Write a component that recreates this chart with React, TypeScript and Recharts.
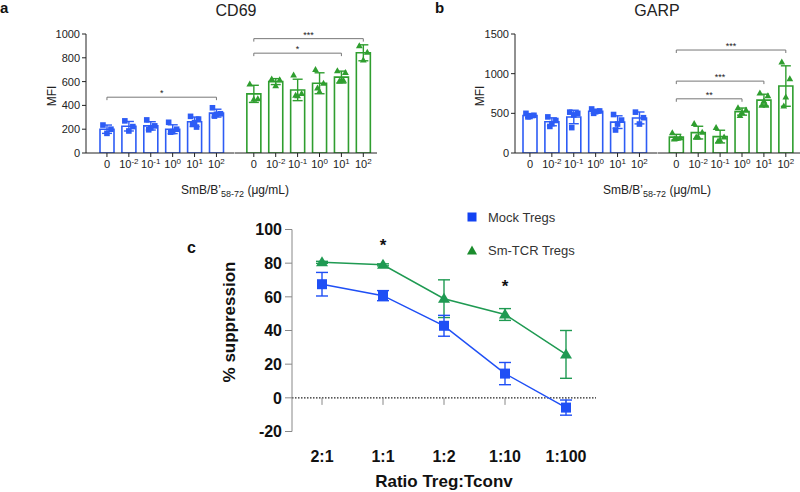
import React from 'react';
import {
  ComposedChart, Bar, ErrorBar, Scatter, Line, XAxis, YAxis,
  ReferenceLine, ReferenceDot, Legend
} from 'recharts';

const FONT = '"Liberation Sans", Arial, Helvetica, sans-serif';
const BLUE = '#2d5cf5';
const GREEN = '#2f9e2f';
const LINE_BLUE = '#1f4ff5';
const LINE_GREEN = '#1f9a52';
const AXIS = '#222';

// SmB/B'58-72 concentrations (x categories)
const CONC = ['0', '10^-2', '10^-1', '10^0', '10^1', '10^2'];

// CD69 MFI
const CD69_MOCK_MEAN = [200, 225, 228, 200, 262, 335];
const CD69_MOCK_SD = [35, 40, 35, 37, 40, 33];
const CD69_MOCK_PTS = [
  [235, 200, 165], [270, 222, 185], [278, 228, 212, 195],
  [258, 200, 180, 175], [308, 285, 255, 245, 218], [380, 330, 325, 310],
];
const CD69_SM_MEAN = [497, 600, 530, 586, 638, 842];
const CD69_SM_SD = [72, 25, 90, 88, 50, 67];
const CD69_SM_PTS = [
  [580, 455, 450], [620, 615, 565], [655, 500, 480, 485],
  [700, 585, 515, 545], [690, 675, 610, 605, 610], [900, 845, 780],
];

// GARP MFI
const GARP_MOCK_MEAN = [472, 393, 454, 527, 389, 442];
const GARP_MOCK_SD = [25, 50, 85, 25, 80, 75];
const GARP_MOCK_PTS = [
  [500, 475, 460, 455], [455, 410, 370, 335], [515, 500, 480, 320],
  [555, 530, 520, 500], [485, 415, 365, 290], [515, 445, 365],
];
const GARP_SM_MEAN = [200, 257, 207, 522, 666, 844];
const GARP_SM_SD = [35, 80, 80, 45, 75, 255];
const GARP_SM_PTS = [
  [255, 190, 180, 175], [370, 260, 200, 200], [320, 200, 160, 150],
  [570, 540, 510, 470], [755, 720, 655, 600, 600], [1145, 935, 705, 590],
];

// significance brackets
const CD69_MOCK_SIG = [{ from: '0', to: '10^2', y: 469, text: '*' }];
const CD69_SM_SIG = [
  { from: '0', to: '10^1', y: 839, text: '*' },
  { from: '0', to: '10^2', y: 961, text: '***' },
];
const GARP_SM_SIG = [
  { from: '0', to: '10^0', y: 683, text: '**' },
  { from: '0', to: '10^1', y: 906, text: '***' },
  { from: '0', to: '10^2', y: 1298, text: '***' },
];

// suppression assay
const RATIO = ['2:1', '1:1', '1:2', '1:10', '1:100'];
const MOCK_SUPP = [67.5, 60.7, 42.8, 14.4, -5.8];
const MOCK_SUPP_SD = [7, 3, 6.2, 6.6, 4.5];
const SM_SUPP = [80.5, 79, 58.9, 49.5, 25.8];
const SM_SUPP_SD = [0.6, 0.6, 11.2, 3.5, 14.2];
const SUPP_SIG = [{ x: '1:1', y: 91 }, { x: '1:10', y: 66.5 }];

const JITTER = [-4, 4, 0, -2, 2];

function buildRows(mean: number[], sd: number[], pts: number[][]) {
  return CONC.map((c, i) => {
    const row: any = { conc: c, mean: mean[i], sd: sd[i] };
    pts[i].forEach((v, j) => { row['p' + j] = v; });
    return row;
  });
}

const ConcTick = (props: any) => {
  const { x, y, payload } = props;
  const [base, exp] = String(payload.value).split('^');
  return (
    <text x={x} y={y} dy={9} textAnchor="middle" fontSize={11} fontFamily={FONT} fill="#222">
      {base}
      {exp !== undefined && <tspan dy={-4} fontSize={8}>{exp}</tspan>}
    </text>
  );
};

const pointShape = (j: number, kind: string, color: string) => (props: any) => {
  const { cx, cy, payload } = props;
  if (!payload || payload['p' + j] == null || !Number.isFinite(cy)) return <g />;
  const x = cx + JITTER[j];
  if (kind === 'square') {
    return <rect x={x - 2.8} y={cy - 2.8} width={5.6} height={5.6} fill={color} />;
  }
  return <path d={`M${x},${cy - 3.6} L${x + 3.4},${cy + 2.4} L${x - 3.4},${cy + 2.4} Z`} fill={color} />;
};

type HalfProps = {
  rows: any[]; left: number; width: number; axisWidth: number;
  padL: number; padR: number; domain: number[]; ticks: number[];
  color: string; kind: string; sig: any[]; showY: boolean;
};

function BarHalf(p: HalfProps) {
  const tickLen = p.domain[1] * 0.025;
  return (
    <div style={{ position: 'absolute', left: p.left, top: 0 }}>
      <ComposedChart width={p.width} height={183} data={p.rows}
        margin={{ top: 34, right: 0, left: 0, bottom: 0 }}>
        <XAxis dataKey="conc" interval={0} height={30} padding={{ left: p.padL, right: p.padR }}
          tick={<ConcTick />} tickSize={4} tickLine={{ stroke: AXIS }} axisLine={{ stroke: AXIS }} />
        <YAxis hide={!p.showY} width={p.axisWidth} domain={p.domain} ticks={p.ticks}
          tickSize={4} tickLine={{ stroke: AXIS }} axisLine={{ stroke: AXIS }}
          tick={{ fontSize: 11, fill: '#222', fontFamily: FONT }} allowDataOverflow />
        {p.sig.map((s, i) => (
          <ReferenceLine key={'h' + i} segment={[{ x: s.from, y: s.y }, { x: s.to, y: s.y }]}
            stroke="#777" strokeWidth={1}
            label={{ value: s.text, position: 'top', offset: 1, fontSize: 9, fill: '#222', fontFamily: FONT }} />
        ))}
        {p.sig.map((s, i) => (
          <ReferenceLine key={'l' + i} segment={[{ x: s.from, y: s.y }, { x: s.from, y: s.y - tickLen }]}
            stroke="#777" strokeWidth={1} />
        ))}
        {p.sig.map((s, i) => (
          <ReferenceLine key={'r' + i} segment={[{ x: s.to, y: s.y }, { x: s.to, y: s.y - tickLen }]}
            stroke="#777" strokeWidth={1} />
        ))}
        <Bar dataKey="mean" barSize={14} fill="#fff" stroke={p.color} strokeWidth={1.6} isAnimationActive={false}>
          <ErrorBar dataKey="sd" width={5} stroke={p.color} strokeWidth={1.4} />
        </Bar>
        {[0, 1, 2, 3, 4].map(j => (
          <Scatter key={j} dataKey={'p' + j} shape={pointShape(j, p.kind, p.color)} isAnimationActive={false} />
        ))}
      </ComposedChart>
    </div>
  );
}

const suppRows = RATIO.map((r, i) => ({
  ratio: r, mock: MOCK_SUPP[i], mockSd: MOCK_SUPP_SD[i], sm: SM_SUPP[i], smSd: SM_SUPP_SD[i],
}));

const squareDot = (props: any) => {
  const { cx, cy, index } = props;
  return <rect key={'sq' + index} x={cx - 5} y={cy - 5} width={10} height={10} fill={LINE_BLUE} />;
};
const triDot = (props: any) => {
  const { cx, cy, index } = props;
  return <path key={'tr' + index} d={`M${cx},${cy - 6} L${cx + 6},${cy + 4} L${cx - 6},${cy + 4} Z`} fill={LINE_GREEN} />;
};

const renderLegend = () => (
  <div style={{ fontFamily: FONT, fontSize: 13, color: '#333' }}>
    <div style={{ display: 'flex', alignItems: 'center', height: 18, marginBottom: 15 }}>
      <svg width={12} height={12} style={{ marginRight: 10 }}>
        <rect x={1.5} y={1.5} width={9} height={9} fill="#1242f2" />
      </svg>
      <span>Mock Tregs</span>
    </div>
    <div style={{ display: 'flex', alignItems: 'center', height: 18 }}>
      <svg width={12} height={12} style={{ marginRight: 10 }}>
        <path d="M6,1.5 L11,10.5 L1,10.5 Z" fill="#1b8c2d" />
      </svg>
      <span>Sm-TCR Tregs</span>
    </div>
  </div>
);

export default function App() {
  const cd69Mock = buildRows(CD69_MOCK_MEAN, CD69_MOCK_SD, CD69_MOCK_PTS);
  const cd69Sm = buildRows(CD69_SM_MEAN, CD69_SM_SD, CD69_SM_PTS);
  const garpMock = buildRows(GARP_MOCK_MEAN, GARP_MOCK_SD, GARP_MOCK_PTS);
  const garpSm = buildRows(GARP_SM_MEAN, GARP_SM_SD, GARP_SM_PTS);
  const cd69Ticks = [0, 200, 400, 600, 800, 1000];
  const garpTicks = [0, 500, 1000, 1500];

  return (
    <div style={{ position: 'absolute', left: 0, top: 0, width: 800, height: 492, background: '#fff', fontFamily: FONT, overflow: 'hidden' }}>
      <BarHalf rows={cd69Mock} left={0} width={234.5} axisWidth={86} padL={10} padR={7.1}
        domain={[0, 1000]} ticks={cd69Ticks} color={BLUE} kind="square" sig={CD69_MOCK_SIG} showY />
      <BarHalf rows={cd69Sm} left={234.5} width={142.5} axisWidth={0} padL={7.85} padR={3.25}
        domain={[0, 1000]} ticks={cd69Ticks} color={GREEN} kind="triangle" sig={CD69_SM_SIG} showY={false} />
      <BarHalf rows={garpMock} left={455} width={202.5} axisWidth={60} padL={4} padR={7.1}
        domain={[0, 1500]} ticks={garpTicks} color={BLUE} kind="square" sig={[]} showY />
      <BarHalf rows={garpSm} left={657.5} width={142.5} axisWidth={0} padL={7.35} padR={3.75}
        domain={[0, 1500]} ticks={garpTicks} color={GREEN} kind="triangle" sig={GARP_SM_SIG} showY={false} />

      <div style={{ position: 'absolute', left: 200, top: 200 }}>
        <ComposedChart width={400} height={292} data={suppRows}
          margin={{ top: 29.5, right: 4, left: 0, bottom: 0 }}>
          <XAxis dataKey="ratio" interval={0} height={60.5} axisLine={false} tickLine={false} tickMargin={13}
            padding={{ left: 30, right: 30 }}
            tick={{ fontSize: 16, fontWeight: 'bold', fill: '#111', fontFamily: FONT }} />
          <YAxis width={92} domain={[-20, 100]} ticks={[-20, 0, 20, 40, 60, 80, 100]}
            tickSize={7} tickMargin={3} axisLine={{ stroke: '#888' }} tickLine={{ stroke: '#888' }}
            tick={{ fontSize: 16, fontWeight: 'bold', fill: '#111', fontFamily: FONT }} />
          <ReferenceLine y={0} stroke="#222" strokeWidth={1.3} strokeDasharray="1.5 1.5" />
          {RATIO.map(r => (
            <ReferenceLine key={r} segment={[{ x: r, y: 0 }, { x: r, y: -4.2 }]} stroke="#888" strokeWidth={1} />
          ))}
          {SUPP_SIG.map((s, i) => (
            <ReferenceDot key={i} x={s.x} y={s.y} r={0} stroke="none"
              label={{ value: '*', position: 'center', fontSize: 17, fontWeight: 'bold', fill: '#111', fontFamily: FONT }} />
          ))}
          <Line dataKey="sm" name="Sm-TCR Tregs" stroke={LINE_GREEN} strokeWidth={1.5} dot={triDot}
            activeDot={false} isAnimationActive={false}>
            <ErrorBar dataKey="smSd" width={6} stroke={LINE_GREEN} strokeWidth={1.4} />
          </Line>
          <Line dataKey="mock" name="Mock Tregs" stroke={LINE_BLUE} strokeWidth={1.5} dot={squareDot}
            activeDot={false} isAnimationActive={false}>
            <ErrorBar dataKey="mockSd" width={6} stroke={LINE_BLUE} strokeWidth={1.4} />
          </Line>
          <Legend layout="vertical" align="center" verticalAlign="middle" content={renderLegend}
            wrapperStyle={{ left: 266, top: 8, width: 150 }} />
        </ComposedChart>
      </div>

      <svg width={800} height={492} style={{ position: 'absolute', left: 0, top: 0, pointerEvents: 'none' }}
        fontFamily={FONT}>
        <text x={0} y={13} fontSize={15} fontWeight="bold" fill="#111">a</text>
        <text x={435} y={13} fontSize={15} fontWeight="bold" fill="#111">b</text>
        <text x={187} y={253} fontSize={16} fontWeight="bold" fill="#111">c</text>
        <text x={236} y={16} fontSize={16} textAnchor="middle" fill="#222">CD69</text>
        <text x={657} y={16} fontSize={16} textAnchor="middle" fill="#222">GARP</text>
        <text transform="translate(56,96) rotate(-90)" fontSize={12} textAnchor="middle" fill="#222">MFI</text>
        <text transform="translate(484,96) rotate(-90)" fontSize={12} textAnchor="middle" fill="#222">MFI</text>
        <text x={235} y={194} fontSize={12} textAnchor="middle" fill="#222">
          SmB/B’<tspan dy={3} fontSize={9}>58-72</tspan><tspan dy={-3}> (μg/mL)</tspan>
        </text>
        <text x={657} y={194} fontSize={12} textAnchor="middle" fill="#222">
          SmB/B’<tspan dy={3} fontSize={9}>58-72</tspan><tspan dy={-3}> (μg/mL)</tspan>
        </text>
        <text transform="translate(235,322) rotate(-90)" fontSize={17} fontWeight="bold" textAnchor="middle" fill="#111">% suppression</text>
        <text x={444} y={487} fontSize={17} fontWeight="bold" textAnchor="middle" fill="#111">Ratio Treg:Tconv</text>
      </svg>
    </div>
  );
}
